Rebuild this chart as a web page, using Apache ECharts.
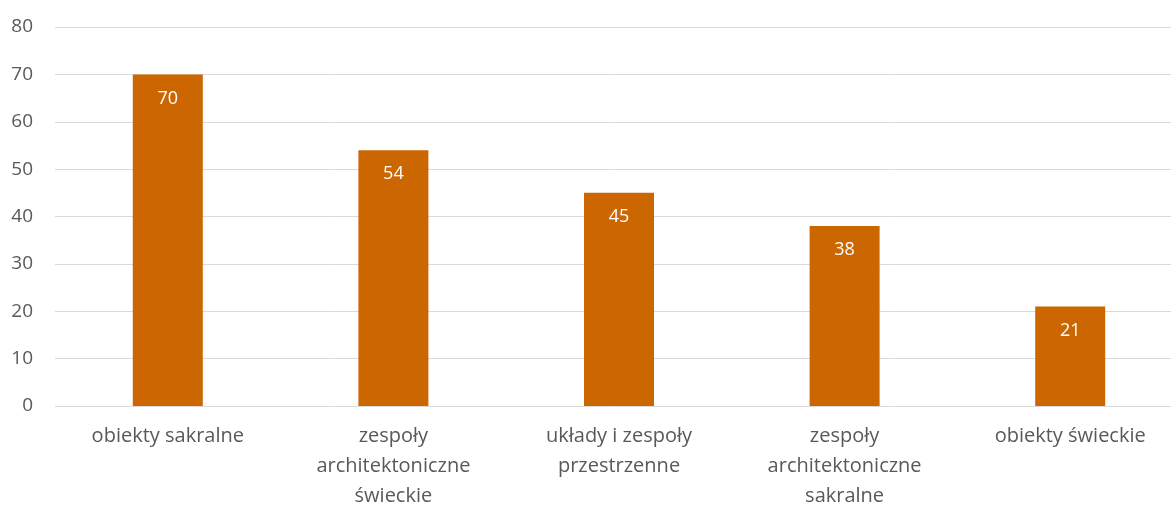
<!DOCTYPE html>
<html><head><meta charset="utf-8">
<script src="https://cdn.jsdelivr.net/npm/echarts@6/dist/echarts.min.js"></script>
<style>html,body{margin:0;padding:0;background:#fff}#c{width:1171px;height:507px}</style>
</head><body><div id="c"></div>
<script>
const categories = ["obiekty sakralne", "zespoły\narchitektoniczne\nświeckie", "układy i zespoły\nprzestrzenne", "zespoły\narchitektoniczne\nsakralne", "obiekty świeckie"];
const values = [70, 54, 45, 38, 21];
const yTicks = {min: 0, max: 80, interval: 10};
const chart = echarts.init(document.getElementById('c'));
chart.setOption({
  animation: false,
  grid: {left: 55, top: 27, bottom: 101, width: 1128, containLabel: false, outerBoundsMode: 'none'},
  xAxis: {
    type: 'category', data: categories,
    axisLine: {show: false}, axisTick: {show: false},
    axisLabel: {color: '#595959', fontFamily: 'Open Sans', fontSize: 20, lineHeight: 30, margin: 15, interval: 0}
  },
  yAxis: {
    type: 'value', min: yTicks.min, max: yTicks.max, interval: yTicks.interval,
    axisLine: {show: false}, axisTick: {show: false},
    splitLine: {lineStyle: {color: '#d9d9d9', width: 1}},
    axisLabel: {color: '#595959', fontFamily: 'Open Sans', fontSize: 19, margin: 22}
  },
  series: [{
    type: 'bar', data: values, barWidth: 70,
    itemStyle: {color: '#CC6600'},
    label: {show: true, position: 'insideTop', distance: 15, color: '#fff', fontFamily: 'Open Sans', fontSize: 18}
  }]
});
</script></body></html>
